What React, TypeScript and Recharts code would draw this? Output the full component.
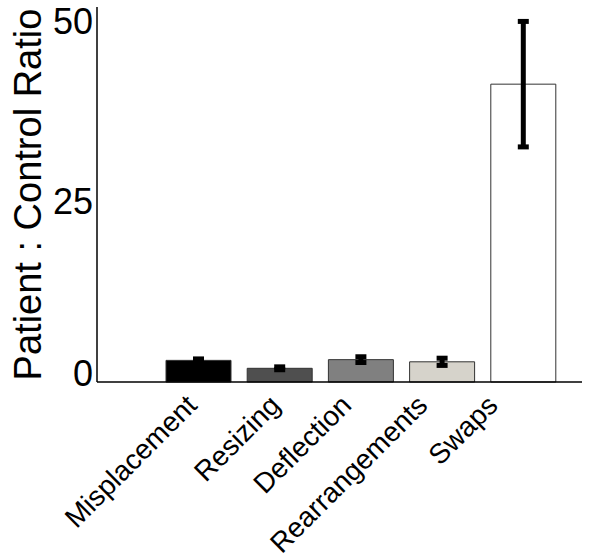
import { BarChart, Bar, XAxis, YAxis, Cell, ErrorBar, Label } from 'recharts';

const categories = ['Misplacement', 'Resizing', 'Deflection', 'Rearrangements', 'Swaps'];
const ratios = [3.0, 1.9, 3.1, 2.8, 41.3];
const errLow = [0.2, 0.2, 0.4, 0.5, 8.7];
const errHigh = [0.2, 0.2, 0.4, 0.5, 8.7];
const barColors = ['#000000', '#4f4f4f', '#808080', '#d6d3cb', '#ffffff'];
const yTicks = [0, 25, 50];

const data = categories.map((name, i) => ({
  name,
  ratio: ratios[i],
  err: [errLow[i], errHigh[i]],
}));

const FONT = "Arial, 'Liberation Sans', sans-serif";

// small per-label nudges, the original labels are not evenly placed
const labelShift = [0, 2, -8, -13, -24];

function XTick({ x, y, payload, index }: any) {
  const tx = x + (labelShift[index] ?? 0);
  const ty = y + 25;
  return (
    <text
      x={tx}
      y={ty}
      textAnchor="end"
      fontSize={28}
      fontFamily={FONT}
      fill="#000"
      transform={`rotate(-45, ${tx}, ${ty})`}
    >
      {payload.value}
    </text>
  );
}

function YTick({ x, y, payload }: any) {
  // the zero label sits a little above the baseline in the original
  const dy = payload.value === 0 ? -9 : 0;
  return (
    <text x={x} y={y + dy} dy="0.355em" textAnchor="end" fontSize={36} fontFamily={FONT} fill="#000">
      {payload.value}
    </text>
  );
}

function YLabel({ viewBox }: any) {
  const cx = viewBox.x + 41;
  const cy = viewBox.y + viewBox.height / 2;
  return (
    <text
      x={cx}
      y={cy}
      textAnchor="middle"
      fontSize={38}
      fontFamily={FONT}
      fill="#000"
      transform={`rotate(-90, ${cx}, ${cy})`}
    >
      Patient : Control Ratio
    </text>
  );
}

export default function App() {
  return (
    <div style={{ position: 'absolute', left: 0, top: 0, background: '#fff' }}>
      <BarChart width={600} height={558} data={data} margin={{ top: 7, right: 18, bottom: 16, left: 0 }}>
        <XAxis
          dataKey="name"
          height={160}
          interval={0}
          tickLine={false}
          tickSize={0}
          tickMargin={0}
          padding={{ left: 61, right: 18 }}
          axisLine={{ stroke: '#000', strokeWidth: 1.5 }}
          tick={<XTick />}
        />
        <YAxis
          width={97}
          domain={[0, 52]}
          ticks={yTicks}
          tickLine={false}
          tickSize={0}
          tickMargin={4}
          axisLine={{ stroke: '#000', strokeWidth: 1.5 }}
          tick={<YTick />}
        >
          <Label content={<YLabel />} />
        </YAxis>
        <Bar dataKey="ratio" barSize={65} stroke="#333" strokeWidth={1} isAnimationActive={false}>
          {data.map((d, i) => (
            <Cell key={d.name} fill={barColors[i]} />
          ))}
          <ErrorBar dataKey="err" width={5.5} strokeWidth={5} stroke="#000" direction="y" />
        </Bar>
      </BarChart>
    </div>
  );
}
